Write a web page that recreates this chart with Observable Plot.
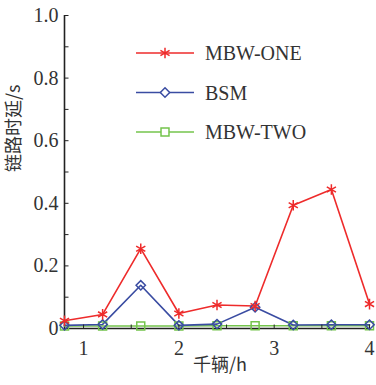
<!DOCTYPE html>
<html><head><meta charset="utf-8">
<script src="https://cdn.jsdelivr.net/npm/d3@7"></script>
<script src="https://cdn.jsdelivr.net/npm/@observablehq/plot@0.6"></script>
<style>body{margin:0;background:#fff;font-family:"Liberation Serif"}</style>
</head><body><div id="chart"></div>
<script>
const xs = [0.8, 1.2, 1.6, 2.0, 2.4, 2.8, 3.2, 3.6, 4.0];
const mbwOne = [0.025, 0.045, 0.255, 0.048, 0.075, 0.072, 0.394, 0.444, 0.078];
const bsm =    [0.010, 0.013, 0.138, 0.010, 0.014, 0.068, 0.011, 0.012, 0.012];
const mbwTwo = [0.008, 0.008, 0.008, 0.008, 0.009, 0.009, 0.009, 0.009, 0.009];
const seriesNames = ["MBW-ONE", "BSM", "MBW-TWO"];
const xTickLabels = [1, 2, 3, 4];
const xMinorTicks = [1, 1.5, 2, 2.5, 3, 3.5, 4];
const yTickLabels = [0, 0.2, 0.4, 0.6, 0.8, 1.0];
const yMinorTicks = [0.1, 0.2, 0.3, 0.4, 0.5, 0.6, 0.7, 0.8, 0.9, 1.0];
const xLabel = "千辆/h";
const yLabel = "链路时延/s";

const colors = {"MBW-ONE": "#ee2b2b", "BSM": "#3a4ca2", "MBW-TWO": "#74c44c"};
const symbols = {"MBW-ONE": "asterisk", "BSM": "diamond2", "MBW-TWO": "square"};
const radii = {"MBW-ONE": 5, "BSM": 4.2, "MBW-TWO": 4.5};
const seriesVals = {"MBW-ONE": mbwOne, "BSM": bsm, "MBW-TWO": mbwTwo};

const rows = seriesNames.flatMap(s => xs.map((x, i) => ({s, x, y: seriesVals[s][i]})));
const drawOrder = ["MBW-TWO", "BSM", "MBW-ONE"];

const hTick = {draw(ctx) { ctx.moveTo(0, 0); ctx.lineTo(4, 0); }};
const vTick = {draw(ctx) { ctx.moveTo(0, 0); ctx.lineTo(0, -4); }};
const axisColor = "#222";
const SERIF = "Liberation Serif";
const CJK = "Noto Sans CJK SC";

const marks = [];
marks.push(Plot.ruleY([0], {stroke: axisColor, strokeWidth: 1.6}));
marks.push(Plot.ruleX([0.8], {stroke: axisColor, strokeWidth: 1.6}));
for (const s of drawOrder) {
  const d = rows.filter(r => r.s === s);
  marks.push(Plot.line(d, {x: "x", y: "y", stroke: colors[s], strokeWidth: 1.6}));
}
for (const s of drawOrder) {
  const d = rows.filter(r => r.s === s);
  marks.push(Plot.dot(d, {x: "x", y: "y", stroke: colors[s], fill: "none", symbol: symbols[s], r: radii[s], strokeWidth: 1.5}));
}
marks.push(Plot.dot(yMinorTicks, {x: () => 0.8, y: d => d, symbol: hTick, stroke: axisColor, strokeWidth: 1}));
marks.push(Plot.dot(xMinorTicks, {x: d => d, y: () => 0, symbol: vTick, stroke: axisColor, strokeWidth: 1}));
marks.push(Plot.axisY({ticks: yTickLabels, tickSize: 0, tickPadding: 6, tickFormat: d => d === 0 ? "0" : d.toFixed(1), label: null, fill: "#333", fontFamily: SERIF, fontSize: 20}));
marks.push(Plot.axisX({ticks: xTickLabels, tickSize: 0, tickPadding: 12, tickFormat: d => String(d), label: null, fill: "#333", fontFamily: SERIF, fontSize: 20}));
marks.push(Plot.text([yLabel], {frameAnchor: "left", rotate: -90, dx: -50, fill: "#333", fontFamily: CJK, fontSize: 18}));
marks.push(Plot.text([xLabel], {frameAnchor: "bottom", dx: 3, dy: 42, fill: "#333", fontFamily: CJK, fontSize: 18}));

const chart = Plot.plot({
  width: 376, height: 385,
  marginLeft: 64, marginRight: 7, marginTop: 15, marginBottom: 57,
  x: {domain: [0.8, 4]},
  y: {domain: [0, 1]},
  style: {background: "#fff", overflow: "visible", fontFamily: SERIF, fontSize: "20px"},
  marks
});
document.getElementById("chart").append(chart);

const svg = d3.select(chart);
svg.attr("font-family", SERIF).attr("font-size", 20);
svg.selectAll("text").each(function() {
  const t = d3.select(this);
  const isCjk = /[\u4e00-\u9fff]/.test(t.text());
  t.attr("font-family", isCjk ? CJK : SERIF).attr("font-size", isCjk ? 18 : 20);
});
const lg = svg.append("g");
const typeMap = {asterisk: d3.symbolAsterisk, diamond2: d3.symbolDiamond2, square: d3.symbolSquare};
seriesNames.forEach((s, i) => {
  const y = 53 + i * 39.5;
  const g = lg.append("g").attr("transform", `translate(0,${y})`);
  g.append("line").attr("x1", 136).attr("x2", 194).attr("y1", 0).attr("y2", 0)
    .attr("stroke", colors[s]).attr("stroke-width", 1.6);
  g.append("path").attr("transform", "translate(165,0)")
    .attr("d", d3.symbol().type(typeMap[symbols[s]]).size(radii[s] * radii[s] * Math.PI)())
    .attr("fill", "#fff").attr("stroke", colors[s]).attr("stroke-width", 1.5);
  g.append("text").attr("x", 205).attr("y", 0).attr("dy", "0.35em")
    .attr("font-family", SERIF).attr("font-size", 20)
    .attr("text-anchor", "start").attr("fill", "#333").text(s);
});
</script></body></html>
